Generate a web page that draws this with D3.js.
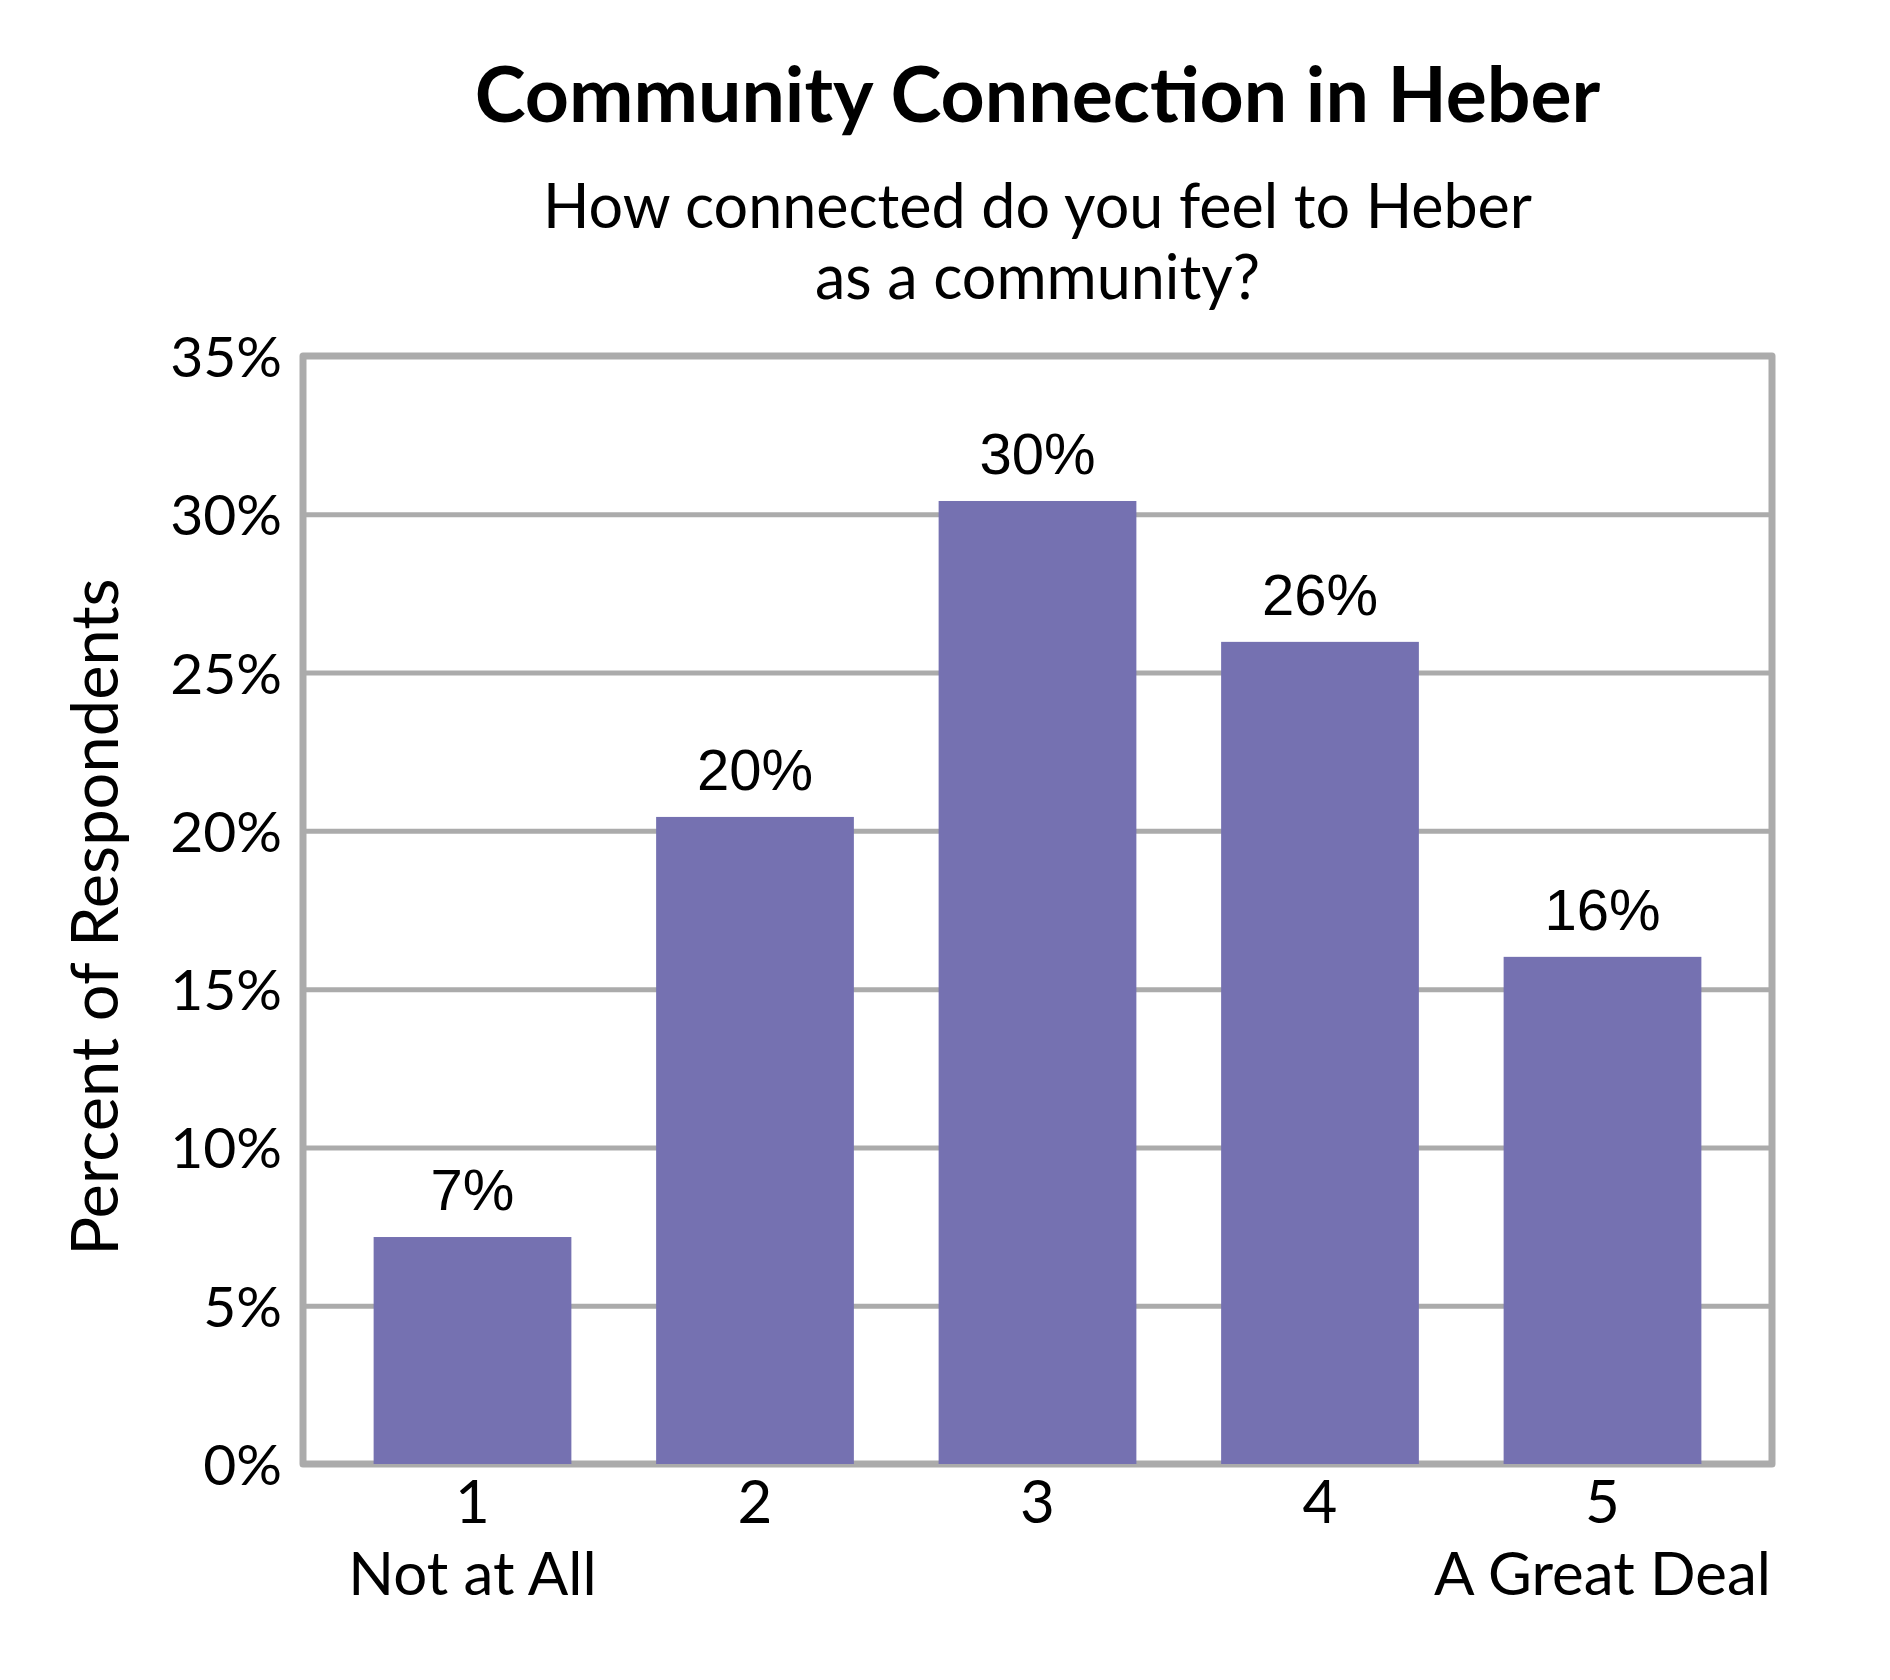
<html><head>
<meta charset="UTF-8">
<title>Community Connection in Heber</title>
<style>
  body { margin: 0; padding: 0; background: #fff; }
  svg { display: block; }
</style>
</head>
<body>
<div id="chart"></div>
<script src="https://cdn.jsdelivr.net/npm/d3@7"></script>
<script>
  // chart data
  const categories = ["1", "2", "3", "4", "5"];
  const subLabels = ["Not at All", "", "", "", "A Great Deal"];
  const values = [7.17, 20.44, 30.42, 25.97, 16.02];
  const valueLabels = ["7%", "20%", "30%", "26%", "16%"];
  const yTicks = [0, 5, 10, 15, 20, 25, 30, 35];

  const width = 1890;
  const height = 1680;
  const plot = { left: 303, right: 1772, top: 356, bottom: 1464 };
  const calibri = "Lato, 'Open Sans', sans-serif";
  const arial = "'Liberation Sans', Arial, sans-serif";
  const gridColor = "#ababab";
  const barColor = "#7571b1";

  const svg = d3.select("#chart")
    .append("svg")
    .attr("width", width)
    .attr("height", height);

  const x = d3.scaleBand()
    .domain(categories)
    .range([plot.left, plot.right])
    .paddingInner(0.3)
    .paddingOuter(0.25);

  const y = d3.scaleLinear()
    .domain([0, 35])
    .range([plot.bottom, plot.top]);

  const midX = (plot.left + plot.right) / 2;

  // title + question
  svg.append("text")
    .attr("x", midX)
    .attr("y", 122)
    .attr("text-anchor", "middle")
    .attr("font-family", calibri)
    .attr("font-weight", "bold")
    .attr("font-size", 77)
    .text("Community Connection in Heber");

  const sub = svg.append("text")
    .attr("text-anchor", "middle")
    .attr("font-family", calibri)
    .attr("font-size", 61);
  sub.append("tspan").attr("x", midX).attr("y", 228).text("How connected do you feel to Heber");
  sub.append("tspan").attr("x", midX).attr("y", 299).text("as a community?");

  // y axis with gridlines
  const yAxis = svg.append("g")
    .attr("transform", `translate(${plot.left},0)`)
    .call(d3.axisLeft(y)
      .tickValues(yTicks)
      .tickSize(-(plot.right - plot.left))
      .tickPadding(21)
      .tickFormat(d => d + "%"));

  yAxis.select(".domain").remove();
  yAxis.selectAll(".tick line")
    .attr("stroke", gridColor)
    .attr("stroke-width", 5);
  yAxis.selectAll(".tick text")
    .attr("font-family", calibri)
    .attr("font-size", 57)
    .attr("fill", "#000")
    .attr("dy", "0.36em");

  // plot frame
  svg.append("rect")
    .attr("x", plot.left)
    .attr("y", plot.top)
    .attr("width", plot.right - plot.left)
    .attr("height", plot.bottom - plot.top)
    .attr("fill", "none")
    .attr("stroke", gridColor)
    .attr("stroke-width", 7)
    .attr("stroke-linejoin", "round");

  // bars
  svg.selectAll(".bar")
    .data(values)
    .enter().append("rect")
    .attr("class", "bar")
    .attr("x", (d, i) => x(categories[i]))
    .attr("y", d => y(d))
    .attr("width", x.bandwidth())
    .attr("height", d => y(0) - y(d))
    .attr("fill", barColor);

  // value labels
  svg.selectAll(".value")
    .data(values)
    .enter().append("text")
    .attr("class", "value")
    .attr("x", (d, i) => x(categories[i]) + x.bandwidth() / 2)
    .attr("y", d => y(d) - 27)
    .attr("text-anchor", "middle")
    .attr("font-family", arial)
    .attr("font-size", 58)
    .text((d, i) => valueLabels[i]);

  // x axis labels
  const xAxis = svg.append("g")
    .attr("transform", `translate(0,${plot.bottom})`)
    .call(d3.axisBottom(x).tickSize(0).tickPadding(16));

  xAxis.select(".domain").remove();
  xAxis.selectAll(".tick text")
    .attr("font-family", calibri)
    .attr("font-size", 60)
    .attr("fill", "#000")
    .each(function(d, i) {
      if (subLabels[i]) {
        d3.select(this).append("tspan")
          .attr("x", 0)
          .attr("dy", 72)
          .text(subLabels[i]);
      }
    });

  // y axis title
  svg.append("text")
    .attr("transform", "translate(118,917) rotate(-90)")
    .attr("text-anchor", "middle")
    .attr("font-family", calibri)
    .attr("font-size", 65)
    .text("Percent of Respondents");
</script>
</body></html>
